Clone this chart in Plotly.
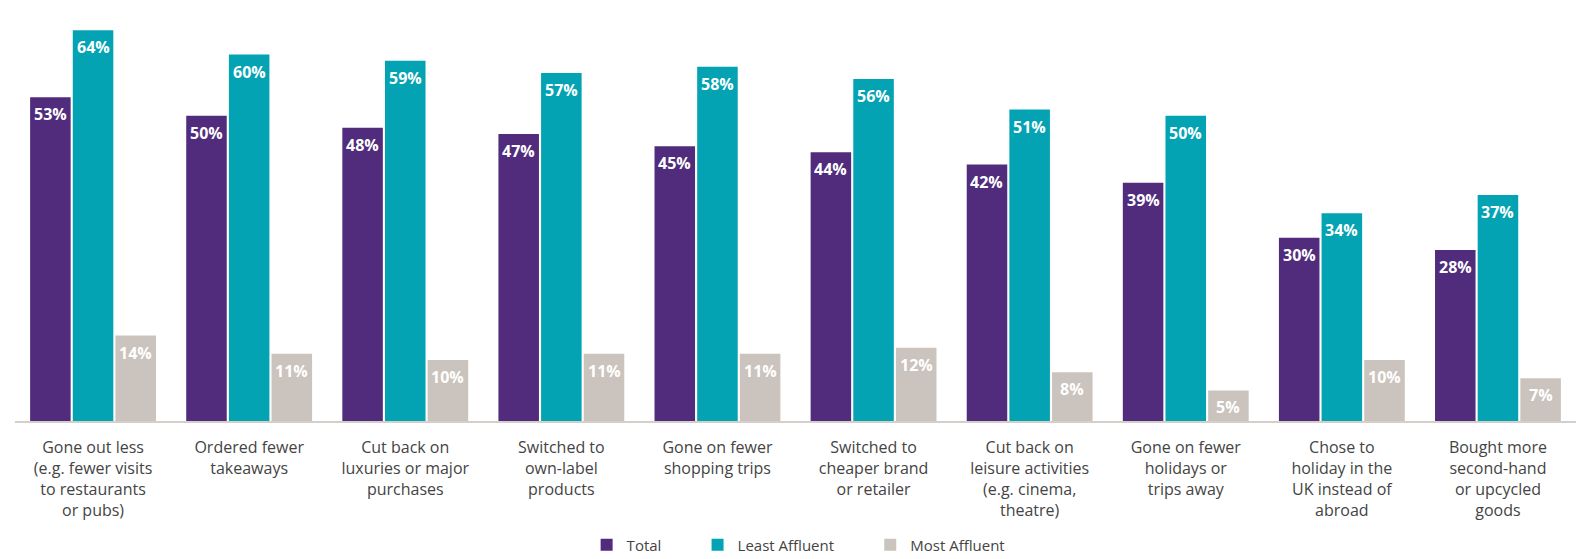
import plotly.graph_objects as go

categories = [
    "Gone out less<br>(e.g. fewer visits<br>to restaurants<br>or pubs)",
    "Ordered fewer<br>takeaways",
    "Cut back on<br>luxuries or major<br>purchases",
    "Switched to<br>own-label<br>products",
    "Gone on fewer<br>shopping trips",
    "Switched to<br>cheaper brand<br>or retailer",
    "Cut back on<br>leisure activities<br>(e.g. cinema,<br>theatre)",
    "Gone on fewer<br>holidays or<br>trips away",
    "Chose to<br>holiday in the<br>UK instead of<br>abroad",
    "Bought more<br>second-hand<br>or upcycled<br>goods",
]
series_names = ["Total", "Least Affluent", "Most Affluent"]
total = [53, 50, 48, 47, 45, 44, 42, 39, 30, 28]
least_affluent = [64, 60, 59, 57, 58, 56, 51, 50, 34, 37]
most_affluent = [14, 11, 10, 11, 11, 12, 8, 5, 10, 7]

series = [total, least_affluent, most_affluent]
colors = ["#512c7c", "#03a3b4", "#cbc3bd"]
legend_pad = ["&nbsp;" * 8, "&nbsp;" * 8, ""]

W, H = 1578, 559
ml, mr, mt, mb = 15, 2, 10, 138
bargap = 0.18
fig = go.Figure()
for name, pad, vals, c in zip(series_names, legend_pad, series, colors):
    fig.add_trace(go.Bar(
        x=categories, y=vals, name=name + pad,
        marker=dict(color=c, line=dict(width=0)),
        hoverinfo="skip",
    ))

plot_w = W - ml - mr
cat_w = plot_w / len(categories)
bar_w = cat_w * (1 - bargap) / 3
annotations = []
for i, vals in enumerate(series):
    for cat, v in zip(categories, vals):
        annotations.append(dict(
            x=cat, y=v, xref="x", yref="y",
            text=f"<b>{v}%</b>", showarrow=False,
            xshift=(i - 1) * bar_w, yshift=-17,
            font=dict(family="Open Sans", size=16, color="white"),
        ))

fig.update_layout(
    width=W, height=H,
    margin=dict(l=ml, r=mr, t=mt, b=mb, pad=0, autoexpand=False),
    paper_bgcolor="white", plot_bgcolor="white",
    barmode="group", bargap=bargap, bargroupgap=0.05,
    font=dict(family="Open Sans", size=16, color="#444444"),
    xaxis=dict(showline=True, linecolor="#d6cfc9", linewidth=2, automargin=False,
               ticks="outside", ticklen=11, tickcolor="rgba(0,0,0,0)",
               showgrid=False, tickfont=dict(size=16, color="#444444")),
    yaxis=dict(range=[0, 67.3], visible=False, showgrid=False, zeroline=False,
               automargin=False),
    legend=dict(orientation="h", x=0.502, xanchor="center", y=-0.302, yanchor="middle",
                font=dict(size=15, color="#444444"), itemwidth=30),
    annotations=annotations,
    showlegend=True,
)
fig.write_html("out.html", config={"displayModeBar": False},
               post_script="document.body.style.margin='0';")
